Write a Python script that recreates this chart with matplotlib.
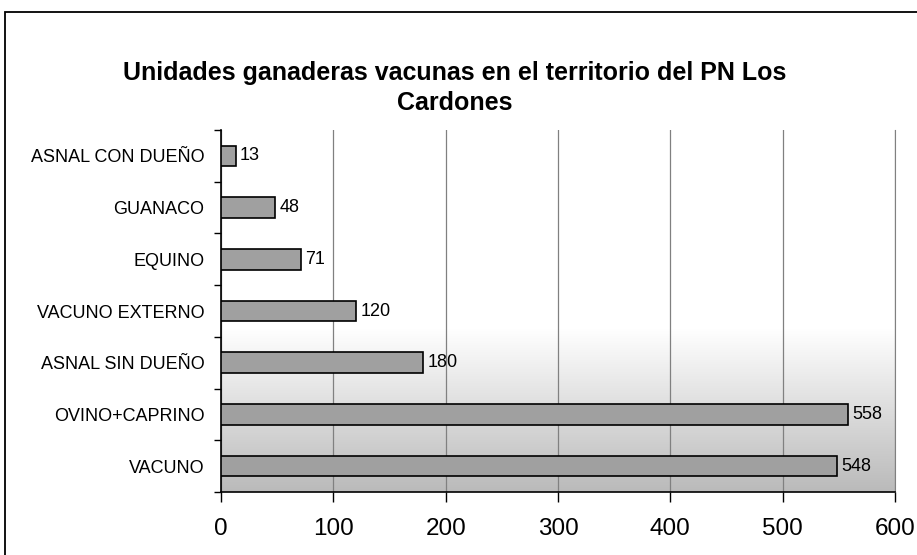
import numpy as np
import matplotlib
matplotlib.use("Agg")
import matplotlib.pyplot as plt
from matplotlib.patches import Rectangle

plt.rcParams['font.family'] = ['Liberation Sans', 'DejaVu Sans']

# data (bottom to top)
categories = ["VACUNO", "OVINO+CAPRINO", "ASNAL SIN DUEÑO", "VACUNO EXTERNO",
              "EQUINO", "GUANACO", "ASNAL CON DUEÑO"]
values = [548, 558, 180, 120, 71, 48, 13]
xticks = [0, 100, 200, 300, 400, 500, 600]

W, H = 917, 555
fig = plt.figure(figsize=(W / 100, H / 100), dpi=100)
fig.patch.set_facecolor("white")

# outer chart border (clipped by image edge on right / bottom)
fig.patches.append(Rectangle((5 / W, -0.1), 1.2, 1.1 - 12 / H,
                             transform=fig.transFigure, fill=False,
                             edgecolor="black", linewidth=1.3))

left, right, top, bottom = 221, 895, 130, 492
ax = fig.add_axes([left / W, 1 - bottom / H, (right - left) / W, (bottom - top) / H])

# vertical gradient background: white on top, grey towards the bottom
grad = np.linspace(0, 1, 256)
shade = np.where(grad < 0.55, 1.0, 1.0 - (grad - 0.55) / 0.45 * 0.27)
img = np.dstack([shade, shade, shade]).reshape(256, 1, 3)
ax.imshow(img, extent=[0, 600, -0.5, len(categories) - 0.5], aspect="auto",
          origin="upper", zorder=0)

y = np.arange(len(categories))
ax.barh(y, values, height=0.4, color="#a0a0a0", edgecolor="black",
        linewidth=1.2, zorder=3)
for yi, v in zip(y, values):
    ax.text(v + 4, yi, str(v), va="center", ha="left", fontsize=13, zorder=4)

ax.set_xlim(0, 600)
ax.set_ylim(-0.5, len(categories) - 0.5)
ax.set_xticks(xticks)
ax.set_xticklabels([str(t) for t in xticks], fontsize=17.5)
ax.set_yticks(y)
ax.set_yticklabels(categories, fontsize=13)
ax.tick_params(axis="y", length=0, pad=12)
ax.set_yticks(np.arange(-0.5, len(categories)), minor=True)
ax.tick_params(axis="y", which="minor", length=5, direction="out", width=1)
ax.tick_params(axis="x", length=7, direction="out", width=1, pad=12)

ax.grid(axis="x", color="#808080", linewidth=0.9, zorder=1)
ax.set_axisbelow(True)
ax.spines["top"].set_visible(False)
ax.spines["right"].set_color("#808080")
ax.spines["left"].set_linewidth(1.2)
ax.spines["bottom"].set_linewidth(1.2)

fig.text(455 / W, 1 - 88 / H,
         "Unidades ganaderas vacunas en el territorio del PN Los\nCardones",
         ha="center", va="center", fontsize=18, fontweight="bold",
         linespacing=1.35)

fig.savefig("out.png", dpi=100)
